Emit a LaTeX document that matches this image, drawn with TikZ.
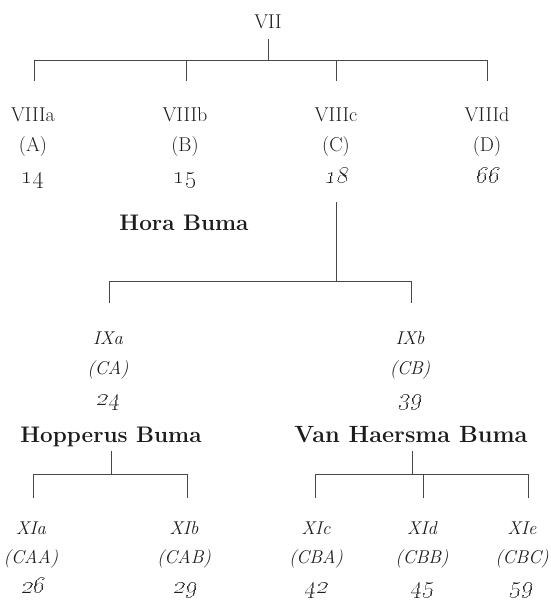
\documentclass[tikz,border=0pt]{standalone}
\definecolor{ink}{HTML}{1C1C1C}
\definecolor{rulec}{HTML}{474747}
\tikzset{
  lbl/.style={anchor=base, inner sep=0pt, text=ink, font=\fontsize{20}{24}\selectfont},
  ilbl/.style={lbl, font=\fontsize{18.5}{22}\selectfont\itshape},
  unum/.style={lbl, font=\fontsize{23}{26}\selectfont},
  inum/.style={unum, xslant=0.18, transform shape},
  fam/.style={anchor=base, inner sep=0pt, text=ink, font=\fontsize{22.5}{26}\selectfont\bfseries},
  link/.style={draw=rulec, line width=0.95pt},
}
\newcommand{\osn}[1]{\oldstylenums{#1}}
\begin{document}
\begin{tikzpicture}[x=1pt,y=-1pt]
\useasboundingbox (0,0) rectangle (550,604);
% top
\node[lbl] (vii) at (268,29) {VII};
\coordinate (a0) at (268,39);
\coordinate (a1) at (268,60);
\coordinate (h1) at (34,60);
\coordinate (h2) at (186,60);
\coordinate (h3) at (336,60);
\coordinate (h4) at (487,60);
\coordinate (e1) at (34,81);
\coordinate (e2) at (186,81);
\coordinate (e3) at (336,81);
\coordinate (e4) at (487,81);
\draw[link] (a0) -- (a1);
\draw[link] (h1) -- (h4);
\draw[link] (h1) -- (e1);
\draw[link] (h2) -- (e2);
\draw[link] (h3) -- (e3);
\draw[link] (h4) -- (e4);
% row VIII
\node[lbl] (viiia) at (33,122) {VIIIa};
\node[lbl] (viiib) at (185,122) {VIIIb};
\node[lbl] (viiic) at (336,122) {VIIIc};
\node[lbl] (viiid) at (487,122) {VIIId};
\node[lbl] (pa) at (33,151) {(A)};
\node[lbl] (pb) at (185,151) {(B)};
\node[lbl] (pc) at (336,151) {(C)};
\node[lbl] (pd) at (487,151) {(D)};
\node[unum] (na) at (33,183) {\osn{14}};
\node[unum] (nb) at (185,183) {\osn{15}};
\node[inum] (nc) at (336,183) {\osn{18}};
\node[inum] (nd) at (487,183) {\osn{66}};
\node[fam] (hora) at (184,230) {Hora Buma};
% C branch
\coordinate (c0) at (336,202);
\coordinate (c1) at (336,281);
\coordinate (g1) at (109,281);
\coordinate (g2) at (411,281);
\coordinate (f1) at (109,303);
\coordinate (f2) at (411,303);
\draw[link] (c0) -- (c1);
\draw[link] (g1) -- (g2);
\draw[link] (g1) -- (f1);
\draw[link] (g2) -- (f2);
% row IX
\node[ilbl] (ixa) at (108,344) {IXa};
\node[ilbl] (ixb) at (410,344) {IXb};
\node[ilbl] (pca) at (108,374) {(CA)};
\node[ilbl] (pcb) at (410,374) {(CB)};
\node[inum] (nca) at (108,405) {\osn{24}};
\node[inum] (ncb) at (410,405) {\osn{39}};
\node[fam] (hop) at (111,442) {Hopperus Buma};
\node[fam, font=\fontsize{23.5}{26}\selectfont\bfseries] (vhb) at (411,442) {Van Haersma Buma};
% Hopperus branch
\coordinate (k0) at (111,451);
\coordinate (k1) at (111,474);
\coordinate (k2) at (33,474);
\coordinate (k3) at (187,474);
\coordinate (m2) at (33,498);
\coordinate (m3) at (187,498);
\draw[link] (k0) -- (k1);
\draw[link] (k2) -- (k3);
\draw[link] (k2) -- (m2);
\draw[link] (k3) -- (m3);
% Van Haersma branch
\coordinate (v0) at (412,451);
\coordinate (v1) at (412,474);
\coordinate (v2) at (315,474);
\coordinate (v3) at (423,474);
\coordinate (v4) at (528,474);
\coordinate (w2) at (315,498);
\coordinate (w3) at (423,498);
\coordinate (w4) at (528,498);
\draw[link] (v0) -- (v1);
\draw[link] (v2) -- (v4);
\draw[link] (v2) -- (w2);
\draw[link] (v3) -- (w3);
\draw[link] (v4) -- (w4);
% row XI
\node[ilbl] (xia) at (31,534) {XIa};
\node[ilbl] (xib) at (184,534) {XIb};
\node[ilbl] (xic) at (316,534) {XIc};
\node[ilbl] (xid) at (422,534) {XId};
\node[ilbl] (xie) at (522,534) {XIe};
\node[ilbl] (pcaa) at (31,563) {(CAA)};
\node[ilbl] (pcab) at (184,563) {(CAB)};
\node[ilbl] (pcba) at (316,563) {(CBA)};
\node[ilbl] (pcbb) at (422,563) {(CBB)};
\node[ilbl] (pcbc) at (522,563) {(CBC)};
\node[inum] (ncaa) at (33,593) {\osn{26}};
\node[inum] (ncab) at (185,593) {\osn{29}};
\node[inum] (ncba) at (316,593) {\osn{42}};
\node[inum] (ncbb) at (422,593) {\osn{45}};
\node[inum] (ncbc) at (521,593) {\osn{59}};
\end{tikzpicture}
\end{document}
